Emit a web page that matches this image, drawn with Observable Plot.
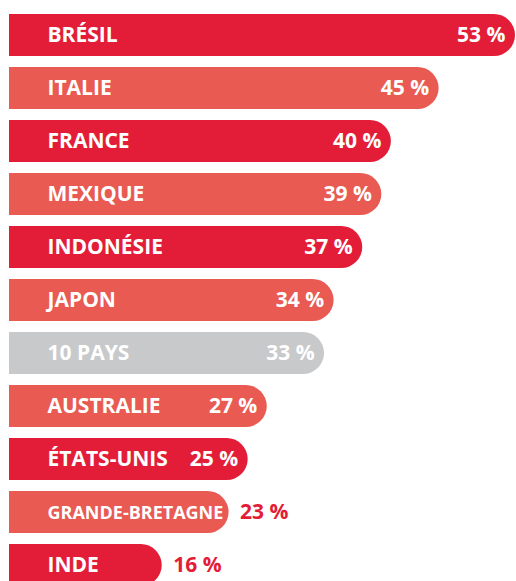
<!DOCTYPE html>
<html>
<head>
<meta charset="utf-8">
<script src="https://cdn.jsdelivr.net/npm/d3@7"></script>
<script src="https://cdn.jsdelivr.net/npm/@observablehq/plot@0.6"></script>
<style>
  html, body { margin: 0; padding: 0; background: #fff; overflow: hidden; }
</style>
</head>
<body>
<div id="chart"></div>
<script>
const countries = ["BRÉSIL", "ITALIE", "FRANCE", "MEXIQUE", "INDONÉSIE", "JAPON", "10 PAYS", "AUSTRALIE", "ÉTATS-UNIS", "GRANDE-BRETAGNE", "INDE"];
const values = [53, 45, 40, 39, 37, 34, 33, 27, 25, 23, 16];
const kinds = ["dark", "light", "dark", "light", "dark", "light", "avg", "light", "dark", "light", "dark"];
const outsideLabels = ["GRANDE-BRETAGNE", "INDE"];
const smallLabels = ["GRANDE-BRETAGNE"];
const palette = {dark: "#e31d37", light: "#e85a52", avg: "#c8c9cb"};

const data = countries.map((c, i) => ({
  country: c,
  value: values[i],
  color: palette[kinds[i]],
  outside: outsideLabels.includes(c),
  small: smallLabels.includes(c)
}));

const font = "'Open Sans', sans-serif";

const chart = Plot.plot({
  width: 516,
  height: 581,
  marginLeft: 9,
  marginRight: 0,
  marginTop: 0,
  marginBottom: 0,
  style: {fontFamily: font, background: "white", overflow: "hidden"},
  x: {domain: [0, 53], range: [9, 515], axis: null},
  y: {domain: countries, range: [12, 587], paddingInner: 0.212, paddingOuter: 0, axis: null},
  color: {type: "identity"},
  marks: [
    Plot.barX(data, {x1: 0, x2: "value", y: "country", fill: "color", rx: 21}),
    Plot.barX(data, {x1: 0, x2: d => d.value / 2, y: "country", fill: "color"}),
    Plot.text(data.filter(d => !d.small), {
      x: 0, y: "country", text: "country", dx: 38, textAnchor: "start",
      fill: "white", fontWeight: 700, fontSize: 21, fontFamily: font
    }),
    Plot.text(data.filter(d => d.small), {
      x: 0, y: "country", text: "country", dx: 38, textAnchor: "start",
      fill: "white", fontWeight: 700, fontSize: 18, fontFamily: font, dy: 1
    }),
    Plot.text(data.filter(d => !d.outside), {
      x: "value", y: "country", text: d => `${d.value} %`, dx: -10, textAnchor: "end",
      fill: "white", fontWeight: 700, fontSize: 21, fontFamily: font
    }),
    Plot.text(data.filter(d => d.outside), {
      x: "value", y: "country", text: d => `${d.value} %`, dx: 11, textAnchor: "start",
      fill: "#e31d37", fontWeight: 700, fontSize: 21, fontFamily: font
    })
  ]
});

document.getElementById("chart").appendChild(chart);
</script>
</body>
</html>
